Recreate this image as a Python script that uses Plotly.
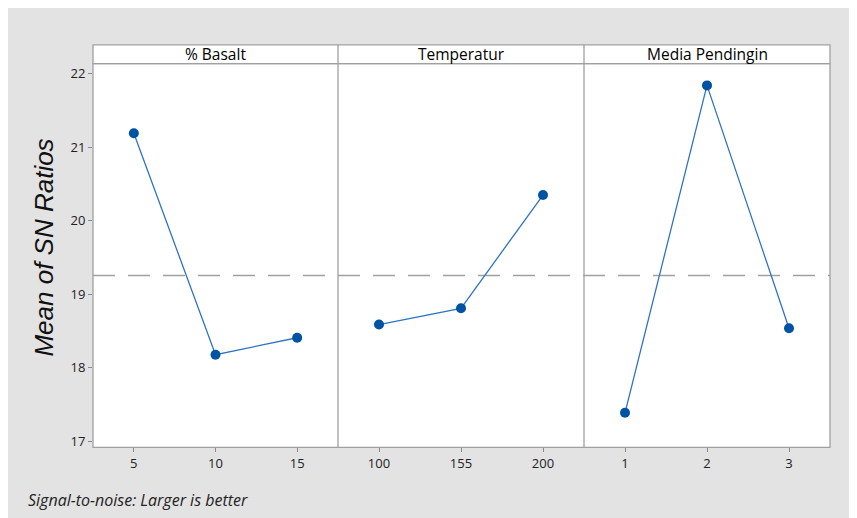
import plotly.graph_objects as go

# page body has an 8px margin, so the figure is drawn at offset (8, 8)
OFF = 8
W, H = 857 - OFF, 518 - OFF

panel_titles = ["% Basalt", "Temperatur", "Media Pendingin"]
basalt_levels = ["5", "10", "15"]
basalt_sn = [21.19, 18.18, 18.41]
temp_levels = ["100", "155", "200"]
temp_sn = [18.59, 18.81, 20.35]
media_levels = ["1", "2", "3"]
media_sn = [17.39, 21.84, 18.54]
y_ticks = [17, 18, 19, 20, 21, 22]

levels = [basalt_levels, temp_levels, media_levels]
values = [basalt_sn, temp_sn, media_sn]
all_vals = basalt_sn + temp_sn + media_sn
grand_mean = sum(all_vals) / len(all_vals)

def px(x):
    return (x - OFF) / W

def py(y):
    return 1 - (y - OFF) / H

edges = [93, 338, 584, 830]
top_head, bot_head, bottom = 45, 64, 450
frame = "#a0a0a0"
tickfont = dict(family="Open Sans", size=13, color="#222")

fig = go.Figure()

for i in range(3):
    ax = "" if i == 0 else str(i + 1)
    fig.add_trace(go.Scatter(
        x=levels[i], y=values[i], mode="lines+markers",
        xaxis="x" + ax, yaxis="y",
        line=dict(color="#2f74c4", width=1.3),
        marker=dict(color="#0052a3", size=10),
        showlegend=False, hoverinfo="x+y"))
    fig.update_layout(**{
        "xaxis" + ax: dict(
            domain=[px(edges[i]), px(edges[i + 1])],
            type="category", range=[-0.5, 2.5],
            showgrid=False, zeroline=False, showline=False,
            ticks="outside", ticklen=4, tickcolor="#8a8a8a",
            tickfont=tickfont, anchor="y", fixedrange=True)
    })

fig.update_layout(
    yaxis=dict(domain=[py(bottom), py(bot_head)], range=[16.92, 22.135],
               tickvals=y_ticks, showgrid=False, zeroline=False, showline=False,
               ticks="outside", ticklen=4, tickcolor="#8a8a8a",
               tickfont=tickfont, anchor="x", fixedrange=True),
    width=W, height=H, margin=dict(l=0, r=0, t=0, b=0),
    paper_bgcolor="#e3e3e3", plot_bgcolor="white",
)

shapes = []
# header strip
shapes.append(dict(type="rect", xref="paper", yref="paper", x0=px(edges[0]), x1=px(edges[3]),
                   y0=py(bot_head), y1=py(top_head), fillcolor="white",
                   line=dict(color=frame, width=1.3)))
# outer frame
shapes.append(dict(type="rect", xref="paper", yref="paper", x0=px(edges[0]), x1=px(edges[3]),
                   y0=py(bottom), y1=py(bot_head), line=dict(color=frame, width=1.3)))
for e in edges[1:3]:
    shapes.append(dict(type="line", xref="paper", yref="paper", x0=px(e), x1=px(e),
                       y0=py(bottom), y1=py(top_head), line=dict(color=frame, width=1.3)))
# grand mean dashed line
shapes.append(dict(type="line", xref="paper", yref="y", x0=px(edges[0]), x1=px(edges[3]),
                   y0=grand_mean, y1=grand_mean,
                   line=dict(color="#a0a0a0", width=1.5, dash="22px,13px"), layer="below"))
fig.update_layout(shapes=shapes)

annotations = []
for i, t in enumerate(panel_titles):
    annotations.append(dict(text=t, xref="paper", yref="paper",
                            x=(px(edges[i]) + px(edges[i + 1])) / 2,
                            y=(py(top_head) + py(bot_head)) / 2,
                            showarrow=False, xanchor="center", yanchor="middle",
                            font=dict(family="Open Sans", size=15.5, color="#000")))
annotations.append(dict(text="<i>Mean of SN Ratios</i>", xref="paper", yref="paper",
                        x=px(44), y=py(249), textangle=-90, showarrow=False,
                        xanchor="center", yanchor="middle",
                        font=dict(family="Liberation Sans", size=26, color="#111")))
annotations.append(dict(text="<i>Signal-to-noise: Larger is better</i>", xref="paper", yref="paper",
                        x=px(26), y=py(503), showarrow=False, xanchor="left", yanchor="middle",
                        font=dict(family="Open Sans", size=16, color="#222")))
fig.update_layout(annotations=annotations)

fig.write_html("out.html")
